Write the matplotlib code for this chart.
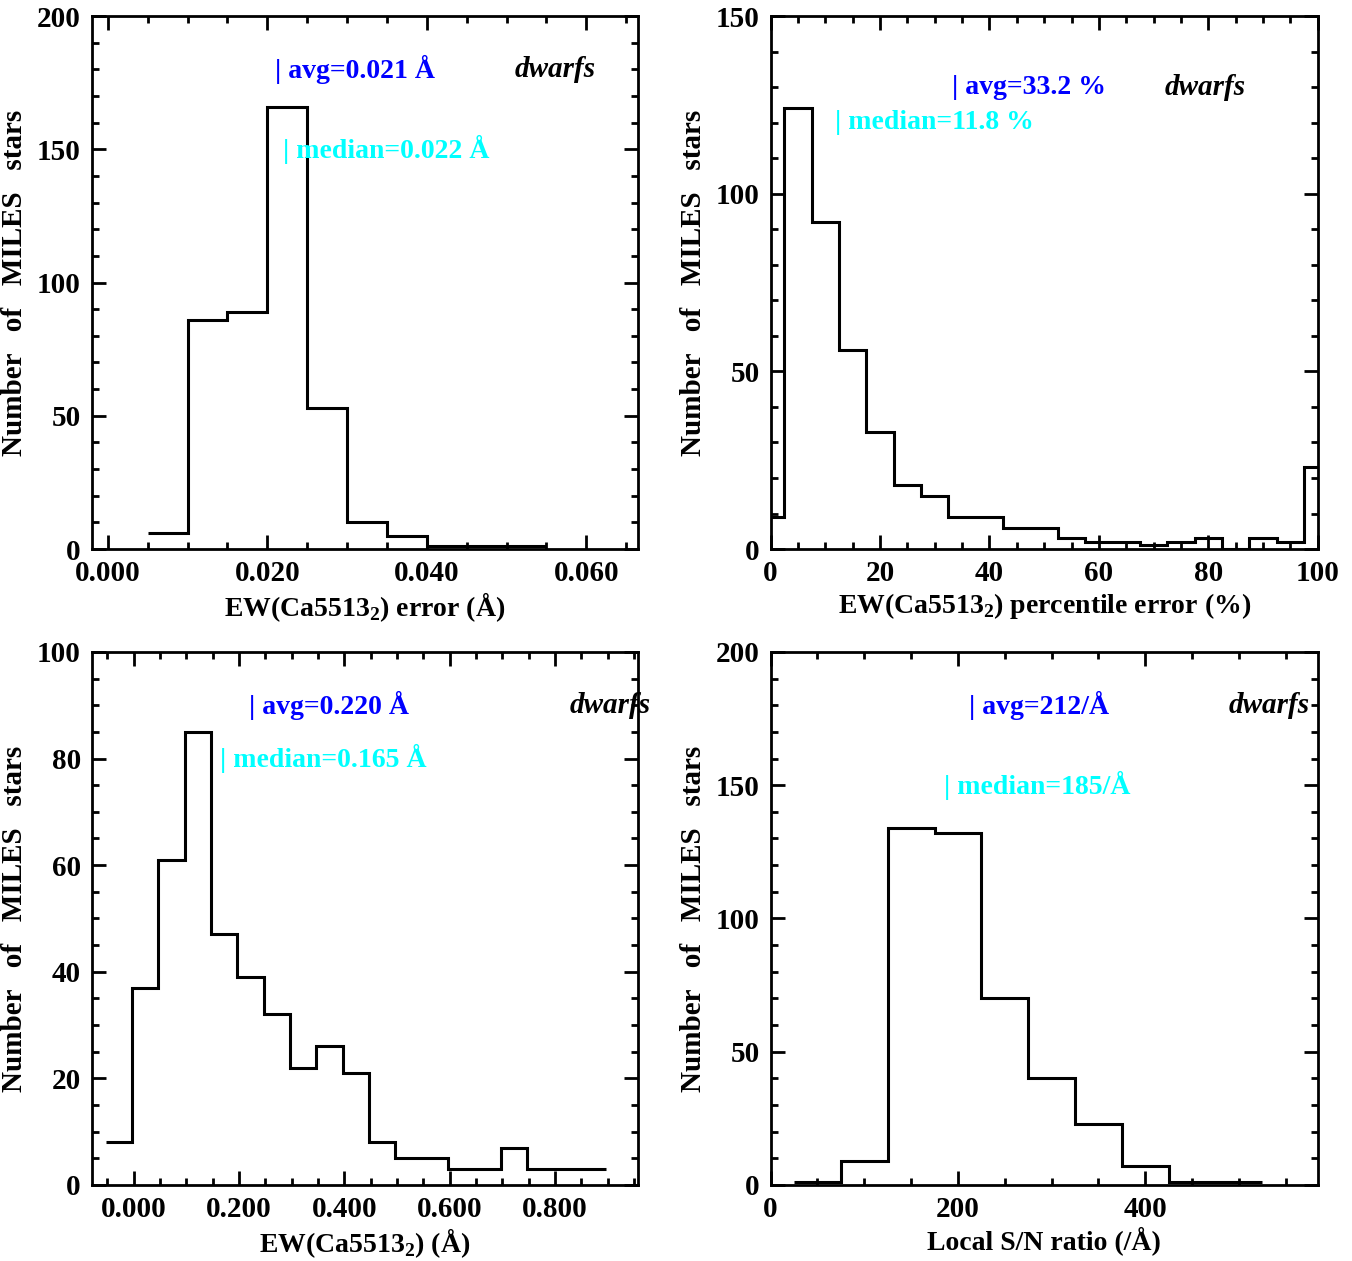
import matplotlib
matplotlib.use('Agg')
from matplotlib import pyplot as plt
from matplotlib.ticker import MultipleLocator, FormatStrFormatter
import numpy as np

plt.rcParams['font.family'] = ['Liberation Serif', 'DejaVu Serif']
plt.rcParams['font.weight'] = 'bold'
plt.rcParams['axes.labelweight'] = 'bold'
plt.rcParams['mathtext.fontset'] = 'custom'
plt.rcParams['mathtext.rm'] = 'Liberation Serif:bold'

# EW error histogram (A)
err_edges = [0.005, 0.010, 0.015, 0.020, 0.025, 0.030, 0.035, 0.040, 0.045, 0.050, 0.055]
err_counts = [6, 86, 89, 166, 53, 10, 5, 1, 1, 1]

# percentile error histogram (%)
pct_edges = [-2.5 + 5 * k for k in range(22)]
pct_counts = [9, 124, 92, 56, 33, 18, 15, 9, 9, 6, 6, 3, 2, 2, 1, 2, 3, 0, 3, 2, 23]

# EW histogram (A)
ew_edges = [-0.053 + 0.05 * k for k in range(20)]
ew_counts = [8, 37, 61, 85, 47, 39, 32, 22, 26, 21, 8, 5, 5, 3, 3, 7, 3, 3, 3]

# S/N histogram
sn_edges = [25, 75, 125, 175, 225, 275, 325, 375, 425, 475, 525]
sn_counts = [1, 9, 134, 132, 70, 40, 23, 7, 1, 1]

# annotations: (avg, avg text, y), (median, median text, y), dwarfs (x, y)
panels = [
    dict(edges=err_edges, counts=err_counts, xlim=(-0.002, 0.0665), ylim=(0, 200),
         xmaj=0.020, xmin=0.005, ymaj=50, ymin=10, fmt='%.3f',
         xlabel=r'EW(Ca5513$_\mathrm{2}$) error (Å)',
         avg=(0.021, '| avg=0.021 Å', 180), med=(0.022, '| median=0.022 Å', 150),
         dw=(0.051, 180)),
    dict(edges=pct_edges, counts=pct_counts, xlim=(0, 100), ylim=(0, 150),
         xmaj=20, xmin=5, ymaj=50, ymin=10, fmt='%d',
         xlabel=r'EW(Ca5513$_\mathrm{2}$) percentile error (%)',
         avg=(33.2, '| avg=33.2 %', 130), med=(11.8, '| median=11.8 %', 120),
         dw=(72, 130)),
    dict(edges=ew_edges, counts=ew_counts, xlim=(-0.079, 0.958), ylim=(0, 100),
         xmaj=0.200, xmin=0.05, ymaj=20, ymin=5, fmt='%.3f',
         xlabel=r'EW(Ca5513$_\mathrm{2}$) (Å)',
         avg=(0.220, '| avg=0.220 Å', 90), med=(0.165, '| median=0.165 Å', 80),
         dw=(0.828, 90)),
    dict(edges=sn_edges, counts=sn_counts, xlim=(0, 584), ylim=(0, 200),
         xmaj=200, xmin=50, ymaj=50, ymin=10, fmt='%d',
         xlabel='Local S/N ratio (/Å)',
         avg=(212, '| avg=212/Å', 180), med=(185, '| median=185/Å', 150),
         dw=(489, 180)),
]

positions = [
    [0.068, 0.5646, 0.404, 0.4227],
    [0.570, 0.5646, 0.4046, 0.4227],
    [0.068, 0.0603, 0.404, 0.4227],
    [0.570, 0.0603, 0.4046, 0.4227],
]

fig = plt.figure(figsize=(13.52, 12.61), dpi=100)

for p, pos in zip(panels, positions):
    ax = fig.add_axes(pos)
    ax.stairs(p['counts'], p['edges'], baseline=None, color='black', lw=2.2)
    ax.set_xlim(*p['xlim'])
    ax.set_ylim(*p['ylim'])
    ax.xaxis.set_major_locator(MultipleLocator(p['xmaj']))
    ax.xaxis.set_minor_locator(MultipleLocator(p['xmin']))
    ax.yaxis.set_major_locator(MultipleLocator(p['ymaj']))
    ax.yaxis.set_minor_locator(MultipleLocator(p['ymin']))
    ax.xaxis.set_major_formatter(FormatStrFormatter(p['fmt']))
    ax.tick_params(which='both', direction='in', top=True, right=True, width=2)
    ax.tick_params(which='major', length=10, labelsize=21, pad=8)
    ax.tick_params(which='minor', length=5)
    for s in ax.spines.values():
        s.set_linewidth(2)
    ax.set_xlabel(p['xlabel'], fontsize=20)
    ax.xaxis.set_label_coords(0.5, -0.078)
    ax.set_ylabel('Number   of   MILES   stars', fontsize=21)
    ax.yaxis.set_label_coords(-0.117, 0.5)

    x, s, y = p['avg']
    ax.text(x, y, s, color='blue', fontsize=20, ha='left', va='center')
    x, s, y = p['med']
    ax.text(x, y, s, color='cyan', fontsize=20, ha='left', va='center')
    x, y = p['dw']
    ax.text(x, y, 'dwarfs', color='black', fontsize=21, style='italic',
            ha='left', va='center', clip_on=False)

fig.savefig('out.png', dpi=100)
